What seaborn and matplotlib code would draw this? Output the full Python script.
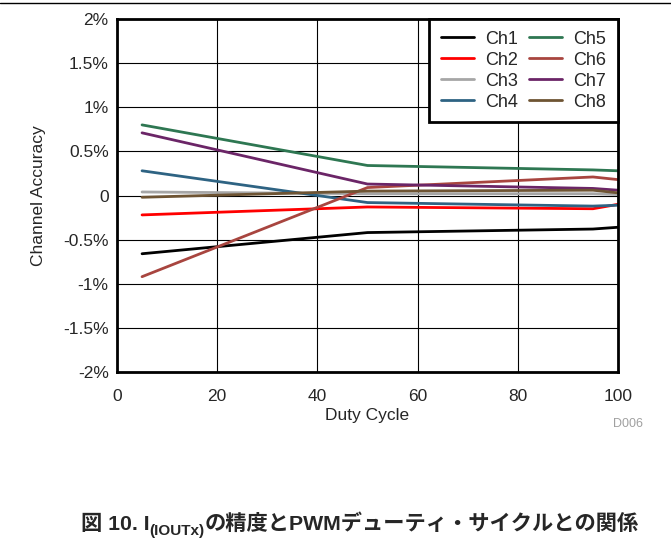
import matplotlib.pyplot as plt
import matplotlib.lines as mlines
import seaborn as sns
import pandas as pd

duty = [5, 50, 95, 100]
channels = ["Ch1", "Ch2", "Ch3", "Ch4", "Ch5", "Ch6", "Ch7", "Ch8"]
ch1 = [-0.66, -0.42, -0.38, -0.36]
ch2 = [-0.22, -0.13, -0.15, -0.10]
ch3 = [0.04, 0.02, 0.02, 0.01]
ch4 = [0.28, -0.08, -0.12, -0.11]
ch5 = [0.80, 0.34, 0.29, 0.28]
ch6 = [-0.92, 0.09, 0.21, 0.18]
ch7 = [0.71, 0.13, 0.08, 0.06]
ch8 = [-0.02, 0.05, 0.06, 0.03]
colors = ["#000000", "#FF0000", "#A6A6A6", "#2E6383",
          "#2E7752", "#A8453F", "#6B2567", "#6E5433"]

values = [ch1, ch2, ch3, ch4, ch5, ch6, ch7, ch8]
rows = []
for name, vals in zip(channels, values):
    for d, v in zip(duty, vals):
        rows.append({"Duty Cycle": d, "Accuracy": v, "Channel": name})
df = pd.DataFrame(rows)

sns.set_style("white")
fonts = ["Liberation Sans", "Noto Sans CJK JP", "DejaVu Sans"]
plt.rcParams["font.family"] = fonts

fig = plt.figure(figsize=(6.71, 5.39), dpi=100)
ax = fig.add_axes([117 / 671, 1 - 372 / 539, 501 / 671, 353 / 539])

sns.lineplot(data=df, x="Duty Cycle", y="Accuracy", hue="Channel",
             palette=dict(zip(channels, colors)), linewidth=2, ax=ax)

ax.set_xlim(0, 100)
ax.set_ylim(-2, 2)
ax.set_xticks([0, 20, 40, 60, 80, 100])
ax.set_yticks([-2, -1.5, -1, -0.5, 0, 0.5, 1, 1.5, 2])
ax.set_yticklabels(["-2%", "-1.5%", "-1%", "-0.5%", "0", "0.5%", "1%", "1.5%", "2%"])
ax.grid(True, color="black", linewidth=0.8)
ax.tick_params(labelsize=12.5, length=0)
ax.tick_params(axis="x", pad=12)
ax.tick_params(axis="y", pad=6)
ax.set_xlabel("Duty Cycle", fontsize=12.5, labelpad=3)
ax.set_ylabel("Channel Accuracy", fontsize=12.5, labelpad=12)
for s in ax.spines.values():
    s.set_color("black")
    s.set_linewidth(2)

leg = ax.legend(ncol=2, loc="upper right", fontsize=13, frameon=True,
                fancybox=False, borderaxespad=0, handlelength=1.85,
                handletextpad=0.6, columnspacing=0.6, labelspacing=0.22,
                borderpad=0.65)
leg.get_frame().set_edgecolor("black")
leg.get_frame().set_linewidth(2)
leg.get_frame().set_alpha(1)

fig.text(628 / 671, 1 - 424 / 539, "D006", color="#A0A0A0", fontsize=9,
         ha="center", va="center")

# caption with subscript, built from pieces
parts = [("図 10. I", 15.3, 0), ("(IOUTx)", 11, -5),
         ("の精度とPWMデューティ・サイクルとの関係", 15.3, 0)]
fig.canvas.draw()
renderer = fig.canvas.get_renderer()
items = []
total = 0
for txt, size, dy in parts:
    t = fig.text(0, 0, txt, fontsize=size, fontweight="bold", family=fonts,
                 va="baseline", ha="left")
    w = t.get_window_extent(renderer).width
    items.append((t, w, dy))
    total += w
x = (360 - total / 2)
base = 539 - 530
for t, w, dy in items:
    t.set_position((x / 671, (base + dy) / 539))
    x += w

fig.add_artist(mlines.Line2D([0, 1], [1 - 3 / 539, 1 - 3 / 539],
                             color="black", linewidth=1))

plt.savefig("out.png", dpi=100)
plt.close()
